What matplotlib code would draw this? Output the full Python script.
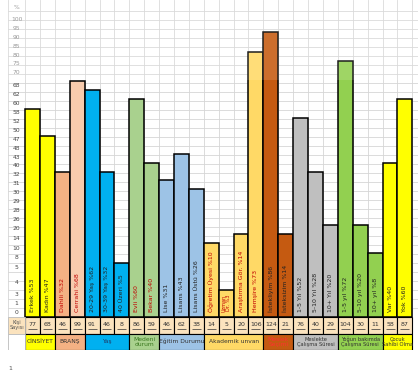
import matplotlib.pyplot as plt
import numpy as np

# bar labels, heights (in grid rows), and person counts
labels = ["Erkek %53", "Kadın %47", "Dahili %32", "Cerrahi %68",
          "20-29 Yaş %62", "30-39 Yaş %32", "40 Üzeri %5",
          "Evli %60", "Bekar %40",
          "Lise %31", "Lisans %43", "Lisans Üstü %26",
          "Öğretim Üyesi %10", "Uzman\nDr. %3", "Araştırma Gör. %14", "Hemşire %73",
          "İstekliyim %86", "İsteksizim %14",
          "1-5 Yıl %52", "5-10 Yıl %28", "10+ Yıl %20",
          "1-5 yıl %72", "5-10 yıl %20", "10+ yıl %8",
          "Var %40", "Yok %60"]
heights = [23.1, 20.1, 16.1, 26.2, 25.2, 16.1, 6.0, 24.2, 17.1, 15.2, 18.1, 14.2,
           8.2, 3.0, 9.2, 29.4, 31.6, 9.2, 22.1, 16.1, 10.2, 28.4, 10.2, 7.1, 17.1, 24.2]
counts = [77, 68, 46, 99, 91, 46, 8, 86, 59, 46, 62, 38, 14, 5, 20, 106,
          124, 21, 76, 40, 29, 104, 30, 11, 58, 87]

groups = ["CİNSİYET", "BRANŞ", "Yaş", "Medeni\ndurum", "Eğitim Durumu", "Akademik unvan",
          "Meslek\nSeçimi", "Meslekte\nÇalışma Süresi", "Yoğun bakımda\nÇalışma Süresi",
          "Çocuk\nSahibi Olma"]
group_sizes = [2, 2, 3, 2, 3, 4, 2, 3, 3, 2]
group_colors = ["#FFFF00", "#F4B183", "#00B0F0", "#A9D18E", "#9DC3E6", "#FFD966",
                "#C55A11", "#BFBFBF", "#92D050", "#FFFF00"]
group_text = ["#333333", "#333333", "#1F3864", "#38761D", "#333333", "#333333",
              "#FF3030", "#333333", "#333333", "#333333"]

# row labels of the sheet on the left (non-linear, as in the picture)
ytick_labels = ["0", "1", "3", "4", "5", "8", "10", "14", "20", "26", "28", "29", "30",
                "31", "32", "40", "43", "48", "47", "50", "52", "58", "60", "62", "68",
                "70", "75", "80", "85", "90", "95", "100", "%"]
ytick_pos = [0.55, 1.55, 2.55, 3.8, 5.45, 6.65, 7.65, 8.75, 9.8, 10.8, 11.8, 12.8, 13.8,
             14.8, 15.8, 16.8, 17.7, 18.7, 19.7, 20.7, 21.7, 22.7, 23.7, 24.7, 25.7,
             27.1, 28.1, 29.0, 30.0, 31.0, 32.0, 33.0, 34.4]

bar_colors = []
for c, s in zip(group_colors, group_sizes):
    bar_colors += [c] * s
bar_colors[3] = "#F8CBAD"
red_labels = {2, 3, 7, 8, 12, 13, 14, 15}
txt_colors = ["#C00000" if i in red_labels else "#222222" for i in range(len(labels))]

W, H = 418, 371
fig = plt.figure(figsize=(W / 100, H / 100), dpi=100)
ax = fig.add_axes([8 / W, 54 / H, 410 / W, 317 / H])
tb = fig.add_axes([8 / W, 21 / H, 410 / W, 33 / H])

x = np.arange(len(heights)) + 0.5
xmin = -17 / 14.9
xmax = xmin + 410 / 14.9

ax.bar(x, heights, width=1, color=bar_colors, edgecolor="black", linewidth=1.1, zorder=3)
for i, lab in enumerate(labels):
    fs = 3.6 if "\n" in lab else 4.5
    ax.text(x[i], 0.6, lab, rotation=90, ha="center", va="bottom", fontsize=fs,
            color=txt_colors[i], zorder=5, linespacing=1.0)

for lab, p in zip(ytick_labels, ytick_pos):
    ax.text(xmin / 2, p, lab, ha="center", va="center", fontsize=4.3,
            color="#8C8C8C" if p > 26.5 else "#444444")

ax.set_xlim(xmin, xmax)
ax.set_ylim(0, 35.2)
ax.set_xticks(np.arange(0, 27), minor=True)
ax.set_yticks(np.arange(1, 35), minor=True)
ax.set_xticks([])
ax.set_yticks([])
ax.tick_params(which="both", length=0)
ax.grid(which="minor", color="#D6D6D6", linewidth=0.6, zorder=1)
for s in ["top", "right", "bottom"]:
    ax.spines[s].set_visible(False)
ax.spines["left"].set_color("#D6D6D6")
ax.spines["left"].set_linewidth(0.6)
ax.axhspan(26.3, 35.2, color="white", alpha=0.12, lw=0, zorder=6)

# table below the bars
beige = "#FBE3BE"
tb.bar(x, 1, bottom=1, width=1, color=beige, edgecolor="black", linewidth=0.8)
tb.bar(xmin / 2, 1, bottom=1, width=-xmin, color=beige, edgecolor="#BBBBBB", linewidth=0.6)
tb.text(xmin / 2, 1.5, "Kişi\nSayısı", ha="center", va="center", fontsize=3.6,
        color="#555555", linespacing=1.0)
for i, c in enumerate(counts):
    tb.text(x[i], 1.55, str(c), ha="center", va="center", fontsize=4.5, color="#333333")
tb.hlines([1.3] * len(x), x - 0.3, x + 0.3, color="#333333", linewidth=0.5)

starts = np.cumsum([0] + group_sizes[:-1])
centers = starts + np.array(group_sizes) / 2
tb.bar(centers, 1, width=group_sizes, color=group_colors, edgecolor="black", linewidth=0.8)
tb.bar(xmin / 2, 1, width=-xmin, color="white", edgecolor="#BBBBBB", linewidth=0.6)
for cx, g, tc, gs in zip(centers, groups, group_text, group_sizes):
    fs = 3.7 if len(g) > 20 or g.startswith("Çocuk") else 4.3
    tb.text(cx, 0.5, g, ha="center", va="center", fontsize=fs, color=tc, linespacing=1.0)

tb.set_xlim(xmin, xmax)
tb.set_ylim(0, 2)
tb.axis("off")

fig.text(8 / W, 1 - 368 / H, "1", fontsize=4.5, color="#555555", va="center")

fig.savefig("out.png", dpi=100)
